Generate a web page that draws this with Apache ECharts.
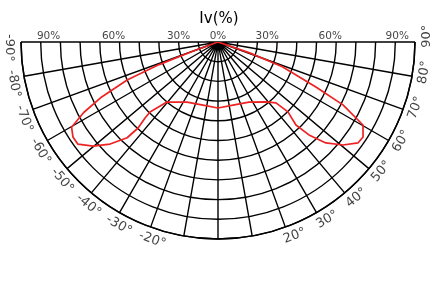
<!DOCTYPE html>
<html><head><meta charset="utf-8">
<script src="https://cdn.jsdelivr.net/npm/echarts@6/dist/echarts.min.js"></script>
<style>html,body{margin:0;padding:0;background:#fff}#c{width:438px;height:291px}</style>
</head><body><div id="c"></div>
<script>
// Relative intensity curve (Iv %), traced in drawing order: [radius %, angle deg]
const curveR =     [0, 14, 32, 50, 66, 77, 86, 88, 88, 82.5, 75.4, 67, 59.6, 53.5, 49.5, 40, 34.3, 32.9, 33.5, 32.9, 34.3, 39, 42.7, 50.2, 57.8, 66, 75, 82.2, 87.6, 88, 84.8, 71, 54.7, 35, 17, 0];
const curveAngle = [-70, -70, -69, -67.3, -64.6, -62.3, -59.8, -56.8, -53.9, -50.2, -46.6, -43.5, -42.9, -43.8, -44.2, -40.4, -27.3, -13.4, 0, 13.4, 27.3, 38.7, 43.6, 45, 43.2, 44.4, 46.9, 50.5, 54.2, 56.8, 60.2, 63.3, 65.3, 69, 71, 71];

// Angle tick labels around the rim
const angleTicks = [-90, -80, -70, -60, -50, -40, -30, -20, 20, 30, 40, 50, 60, 70, 80, 90];
const angleTickLabels = angleTicks.map(a => a + '°');

// Percentage labels along the top edge
const pctLabels = ['90%', '60%', '30%', '0%', '30%', '60%', '90%'];
const pctSide   = [-90, -90, -90, 0, 90, 90, 90];

// layout (not data)
const pctLabelRadius = [86, 53, 20, 0, 25, 57, 91];
const rimLabelRadius = 105.8;
const rimLabelShift = 1.6;

const FONT = 'DejaVu Sans';
const chart = echarts.init(document.getElementById('c'), null, {renderer: 'canvas'});

const rimData = angleTicks.map((a, i) => ({
  value: [rimLabelRadius, a + rimLabelShift],
  label: {rotate: a, formatter: angleTickLabels[i]}
}));
const pctData = pctLabels.map((t, i) => ({
  value: [pctLabelRadius[i], pctSide[i] === 0 ? -90 : pctSide[i]],
  label: {formatter: t}
}));

chart.setOption({
  animation: false,
  backgroundColor: '#fff',
  title: {
    text: 'Iv(%)', left: 'center', top: 12, padding: 0,
    textStyle: {fontFamily: FONT, fontSize: 15, fontWeight: 'normal', color: '#000'}
  },
  polar: {center: [218, 42], radius: 197},
  angleAxis: {
    type: 'value', min: -90, max: 90, interval: 10,
    startAngle: 180, endAngle: 360, clockwise: false,
    axisLine: {show: true, lineStyle: {color: '#000', width: 1.5}},
    axisTick: {show: false}, axisLabel: {show: false},
    splitLine: {show: true, lineStyle: {color: '#000', width: 1.4}}
  },
  radiusAxis: {
    type: 'value', min: 0, max: 100, interval: 10,
    axisLine: {show: false}, axisTick: {show: false}, axisLabel: {show: false},
    splitLine: {show: true, lineStyle: {color: '#000', width: 1.4}}
  },
  series: [
    {
      type: 'line', coordinateSystem: 'polar', smooth: false, symbol: 'none', clip: false,
      lineStyle: {color: '#ee2222', width: 1.7},
      data: curveR.map((r, i) => [r, curveAngle[i]]),
      z: 5
    },
    {
      type: 'scatter', coordinateSystem: 'polar', symbolSize: 0, clip: false, silent: true,
      label: {show: true, position: 'inside', align: 'center', verticalAlign: 'middle',
        fontFamily: FONT, fontSize: 13, color: '#111'},
      data: rimData
    },
    {
      type: 'scatter', coordinateSystem: 'polar', symbolSize: 0, clip: false, silent: true,
      label: {show: true, position: 'top', distance: 0,
        fontFamily: FONT, fontSize: 10.5, color: '#111'},
      data: pctData
    }
  ]
});
</script></body></html>
